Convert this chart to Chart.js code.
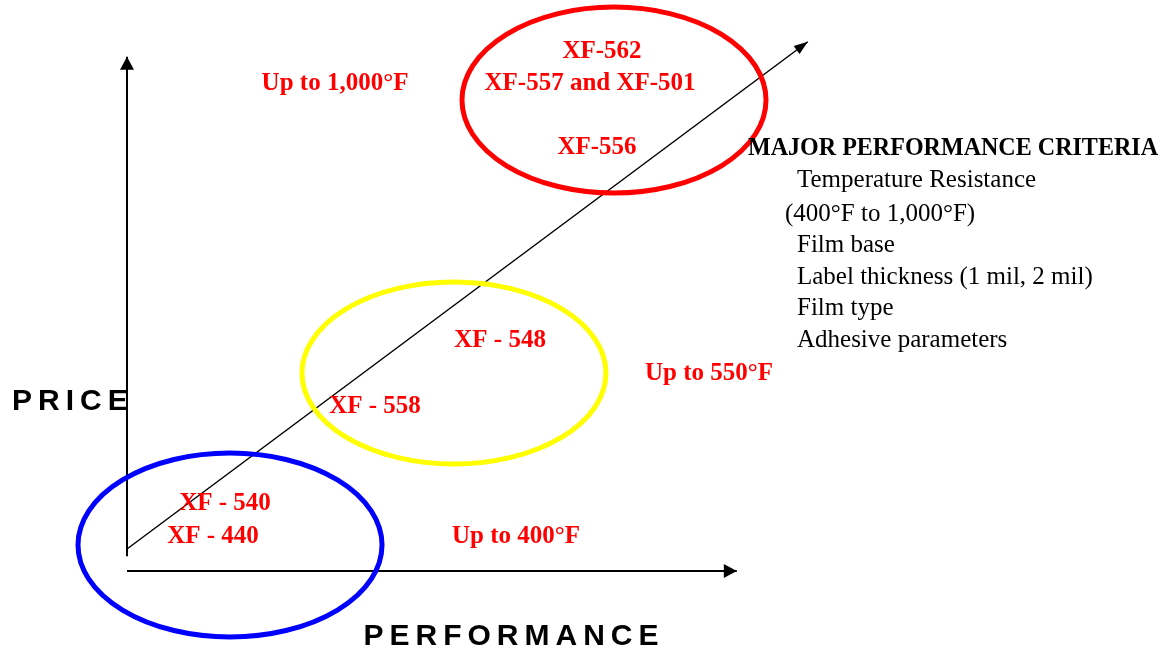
<!DOCTYPE html>
<html lang="en">
<head>
    <meta charset="UTF-8" />
    <title>Price vs Performance</title>
    <script src="https://cdn.jsdelivr.net/npm/chart.js"></script>
    <style>
        body { margin: 0; background: #fff; overflow: hidden; }
        canvas { display: block; }
    </style>
</head>
<body>
    <canvas id="diagram" width="1164" height="652"></canvas>

    <script>
        // all positions in percent of the drawing (x: 0..100 left→right, y: 0..100 bottom→top)

        // arrows: price axis, performance axis, trend line
        const arrowFromX = [10.91, 10.91, 10.91];
        const arrowFromY = [14.7, 12.42, 15.8];
        const arrowToX = [10.91, 63.3, 69.4];
        const arrowToY = [91.3, 12.42, 93.6];

        // temperature groups (ellipses)
        const groupNames = ["Up to 400°F", "Up to 550°F", "Up to 1,000°F"];
        const groupCenterX = [19.76, 39.0, 52.75];
        const groupCenterY = [16.41, 42.79, 84.66];
        const groupRadiusX = [13.06, 13.06, 13.06];
        const groupRadiusY = [14.11, 13.96, 14.26];
        const groupLabelX = [44.33, 60.91, 28.78];
        const groupLabelY = [17.64, 42.64, 87.12];

        // products
        const productNames = ["XF - 440", "XF - 540", "XF - 558", "XF - 548", "XF-556", "XF-557 and XF-501", "XF-562"];
        const productX = [18.30, 19.33, 32.22, 42.96, 51.29, 50.69, 51.72];
        const productY = [17.64, 22.71, 37.58, 47.71, 77.31, 87.12, 92.03];

        // criteria box
        const criteriaTitle = "MAJOR PERFORMANCE CRITERIA";
        const criteriaItems = ["Temperature Resistance", "(400°F to 1,000°F)", "Film base", "Label thickness (1 mil, 2 mil)", "Film type", "Adhesive parameters"];
        const criteriaX = [68.47, 67.44, 68.47, 68.47, 68.47, 68.47];
        const criteriaY = [72.25, 67.18, 62.43, 57.52, 52.77, 47.86];

        const groupColors = ["#0000ff", "#ffff00", "#ff0000"];

        const arrowDatasets = arrowFromX.map((x0, i) => ({
            data: [{ x: x0, y: arrowFromY[i] }, { x: arrowToX[i], y: arrowToY[i] }],
            showLine: true,
            borderColor: "#000",
            borderWidth: i === 2 ? 1.5 : 2,
            pointRadius: 0
        }));

        const extrasPlugin = {
            id: "extras",
            afterDatasetsDraw(chart) {
                const ctx = chart.ctx;
                const sx = chart.scales.x, sy = chart.scales.y;
                const px = v => sx.getPixelForValue(v);
                const py = v => sy.getPixelForValue(v);

                // arrow heads
                ctx.save();
                ctx.fillStyle = "#000";
                arrowToX.forEach((x1, i) => {
                    const tx = px(x1), ty = py(arrowToY[i]);
                    const a = Math.atan2(ty - py(arrowFromY[i]), tx - px(arrowFromX[i]));
                    const len = i === 2 ? 14 : 13, half = i === 2 ? 5 : 7;
                    ctx.beginPath();
                    ctx.moveTo(tx, ty);
                    ctx.lineTo(tx - len * Math.cos(a) + half * Math.sin(a), ty - len * Math.sin(a) - half * Math.cos(a));
                    ctx.lineTo(tx - len * Math.cos(a) - half * Math.sin(a), ty - len * Math.sin(a) + half * Math.cos(a));
                    ctx.closePath();
                    ctx.fill();
                });

                // ellipses
                ctx.lineWidth = 5;
                groupCenterX.forEach((cx, i) => {
                    const x = px(cx), y = py(groupCenterY[i]);
                    const rx = Math.abs(px(cx + groupRadiusX[i]) - x);
                    const ry = Math.abs(py(groupCenterY[i] + groupRadiusY[i]) - y);
                    ctx.strokeStyle = groupColors[i];
                    ctx.beginPath();
                    ctx.ellipse(x, y, rx, ry, 0, 0, Math.PI * 2);
                    ctx.stroke();
                });

                // red labels
                ctx.fillStyle = "#ff0000";
                ctx.font = "bold 25px 'Liberation Serif', 'Times New Roman', serif";
                ctx.textAlign = "center";
                ctx.textBaseline = "middle";
                groupNames.forEach((t, i) => ctx.fillText(t, px(groupLabelX[i]), py(groupLabelY[i])));
                productNames.forEach((t, i) => ctx.fillText(t, px(productX[i]), py(productY[i])));

                // criteria
                ctx.fillStyle = "#000";
                ctx.textAlign = "left";
                ctx.fillText(criteriaTitle, px(64.26), py(77.15), 410);
                ctx.font = "25px 'Liberation Serif', 'Times New Roman', serif";
                criteriaItems.forEach((t, i) => ctx.fillText(t, px(criteriaX[i]), py(criteriaY[i])));

                // axis titles
                ctx.font = "bold 30px 'Liberation Sans', Arial, sans-serif";
                ctx.letterSpacing = "6px";
                ctx.fillText("PRICE", px(1.03), py(38.34));
                ctx.textAlign = "center";
                ctx.fillText("PERFORMANCE", px(43.9) + 3, py(2.3));
                ctx.restore();
            }
        };

        new Chart(document.getElementById("diagram"), {
            type: "scatter",
            data: { datasets: arrowDatasets },
            options: {
                responsive: false,
                animation: false,
                layout: { padding: 0 },
                scales: {
                    x: { type: "linear", min: 0, max: 100, display: false },
                    y: { type: "linear", min: 0, max: 100, display: false }
                },
                plugins: {
                    legend: { display: false },
                    tooltip: { enabled: false }
                }
            },
            plugins: [extrasPlugin]
        });
    </script>
</body>
</html>
